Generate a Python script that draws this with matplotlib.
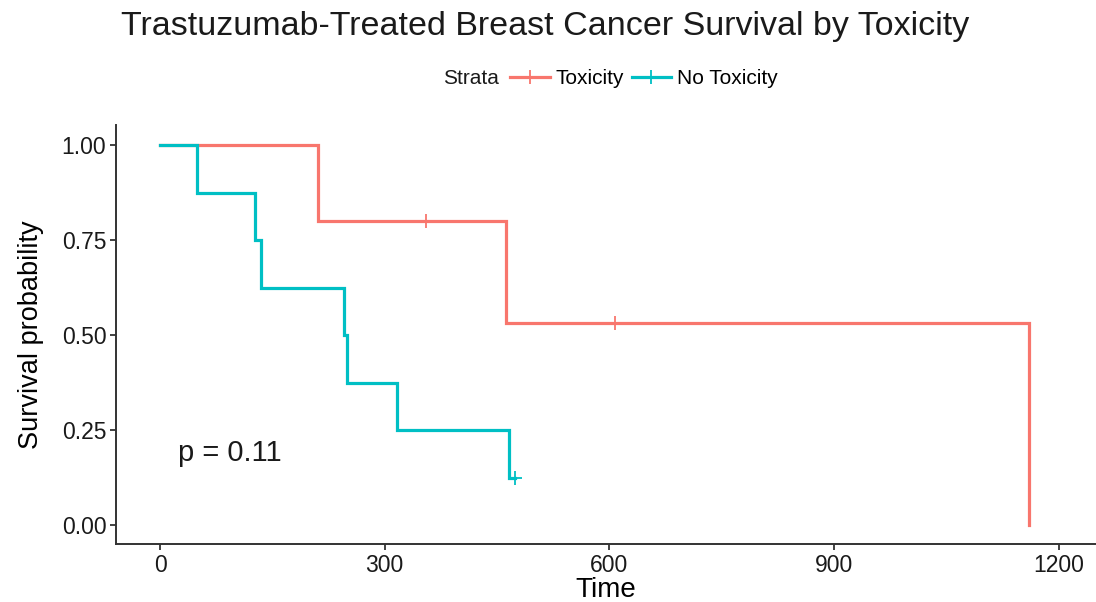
import matplotlib
matplotlib.use("Agg")
import matplotlib.pyplot as plt
from matplotlib.lines import Line2D

plt.rcParams['font.family'] = ['Liberation Sans', 'DejaVu Sans']

# ---- data ----
tox_times = [0, 211, 462, 1161]
tox_surv = [1.0, 0.8, 0.533, 0.0]
tox_censor_t = [355, 607]
tox_censor_s = [0.8, 0.533]

notox_times = [0, 49, 127, 135, 246, 250, 316, 466, 474]
notox_surv = [1.0, 0.875, 0.75, 0.625, 0.5, 0.375, 0.25, 0.125, 0.125]
notox_censor_t = [474]
notox_censor_s = [0.125]

strata = ["Toxicity", "No Toxicity"]
colors = ["#F8766D", "#00BFC4"]
x_ticks = [0, 300, 600, 900, 1200]
y_ticks = [0.00, 0.25, 0.50, 0.75, 1.00]
y_ticklabels = ["0.00", "0.25", "0.50", "0.75", "1.00"]
title = "Trastuzumab-Treated Breast Cancer Survival by Toxicity"
pval_text = "p = 0.11"

W, H = 1096, 602
fig = plt.figure(figsize=(W / 100, H / 100), dpi=100)
L, R, T, B = 116, 1096, 125, 544
ax = fig.add_axes([L / W, 1 - B / H, (R - L) / W, (B - T) / H])

ax.step(tox_times, tox_surv, where='post', color=colors[0], lw=2.3, solid_joinstyle='miter')
ax.step(notox_times, notox_surv, where='post', color=colors[1], lw=2.3, solid_joinstyle='miter')
ax.plot(tox_censor_t, tox_censor_s, ls='none', marker='+', ms=10, mew=1.3, color=colors[0])
ax.plot(notox_censor_t, notox_censor_s, ls='none', marker='+', ms=10, mew=1.3, color=colors[1])

ax.set_xlim(-58.8, 1250)
ax.set_ylim(-0.05, 1.053)
ax.set_xticks(x_ticks)
ax.set_yticks(y_ticks)
ax.set_yticklabels(y_ticklabels)
for s in ['top', 'right']:
    ax.spines[s].set_visible(False)
for s in ['left', 'bottom']:
    ax.spines[s].set_linewidth(1.4)
    ax.spines[s].set_color('#333333')
ax.tick_params(axis='both', length=4, width=1.3, color='#333333', labelsize=16.5,
               labelcolor='#1a1a1a', pad=3)

ax.set_xlabel("Time", fontsize=20, labelpad=0)
ax.set_ylabel("Survival probability", fontsize=19.5, labelpad=13)

ax.text(24, 0.19, pval_text, fontsize=21, ha='left', va='center', color='#1a1a1a')

fig.text(545 / W, 1 - 26 / H, title, fontsize=24.5, ha='center', va='center', color='#1a1a1a')

fig.text(443 / W, 1 - 79 / H, "Strata", fontsize=15, ha='left', va='center', color='#1a1a1a')
handles = [Line2D([], [], color=c, lw=2.3, marker='+', ms=10, mew=1.3) for c in colors]
fig.legend(handles, strata, loc='center left', bbox_to_anchor=(510 / W, 1 - 79 / H),
           ncol=2, frameon=False, fontsize=15, handlelength=1.9, handletextpad=0.3,
           columnspacing=0.35, borderpad=0, borderaxespad=0)

fig.savefig("out.png", dpi=100)
